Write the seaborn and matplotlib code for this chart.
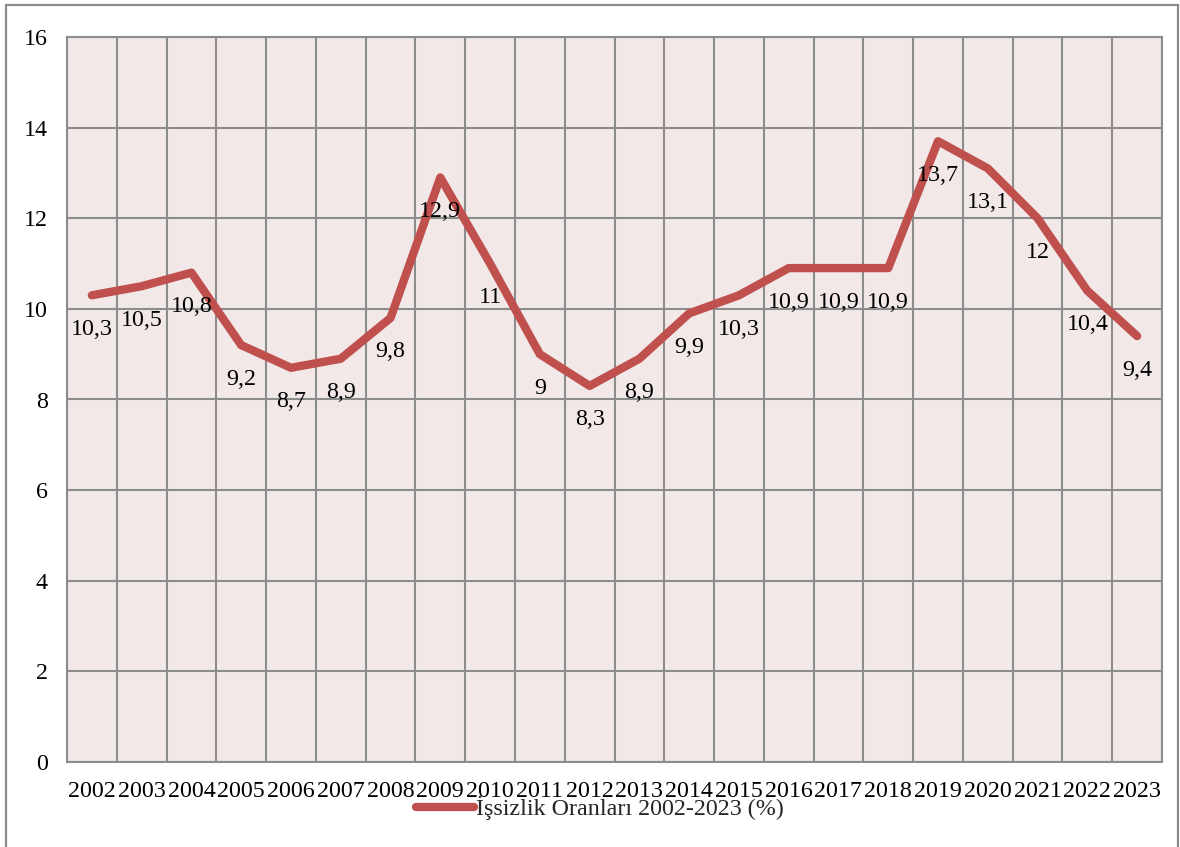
import matplotlib
matplotlib.use('Agg')
import matplotlib.pyplot as plt
from matplotlib.patches import Rectangle
import pandas as pd
import seaborn as sns

# Data
years = [str(y) for y in range(2002, 2024)]
rates = [10.3, 10.5, 10.8, 9.2, 8.7, 8.9, 9.8, 12.9, 11.0, 9.0, 8.3,
         8.9, 9.9, 10.3, 10.9, 10.9, 10.9, 13.7, 13.1, 12.0, 10.4, 9.4]
labels = ['10,3', '10,5', '10,8', '9,2', '8,7', '8,9', '9,8', '12,9', '11', '9', '8,3',
          '8,9', '9,9', '10,3', '10,9', '10,9', '10,9', '13,7', '13,1', '12', '10,4', '9,4']
series_name = 'İşsizlik Oranları 2002-2023 (%)'

df = pd.DataFrame({'year': years, 'rate': rates})

sns.set_style('white')
plt.rcParams['font.family'] = ['Liberation Serif', 'DejaVu Serif']

grid_col = '#8c8c8c'
line_col = '#c0504d'

fig = plt.figure(figsize=(11.8, 8.47), dpi=100)
ax = fig.add_axes([67 / 1180, 1 - 762 / 847, (1162 - 67) / 1180, (762 - 37) / 847])
ax.set_facecolor('#f2e8e8')

# Outer chart border
fig.patches.append(Rectangle((6 / 1180, -0.05), (1178 - 6) / 1180, 1 - 5 / 847 + 0.05,
                             transform=fig.transFigure, fill=False,
                             edgecolor=grid_col, linewidth=1.6, clip_on=False))

sns.lineplot(data=df, x='year', y='rate', ax=ax, color=line_col, linewidth=6,
             label=series_name, sort=False, solid_joinstyle='round',
             solid_capstyle='round')

# Data labels below the points
for i, (v, t) in enumerate(zip(rates, labels)):
    ax.annotate(t, (i, v), xytext=(0, -24.5), textcoords='offset points',
                ha='center', va='center', fontsize=17.3, color='black')

ax.set_xlim(-0.5, len(years) - 0.5)
ax.set_ylim(0, 16)
ax.set_yticks(range(0, 17, 2))
ax.set_xticks(range(len(years)))
ax.set_xticklabels(years)
ax.set_xticks([k + 0.5 for k in range(-1, len(years))], minor=True)

ax.grid(False)
ax.grid(axis='y', which='major', color=grid_col, linewidth=1.5)
ax.grid(axis='x', which='minor', color=grid_col, linewidth=1.5)
ax.set_axisbelow(True)

ax.tick_params(axis='both', which='both', length=0, labelsize=17.3, colors='black')
ax.tick_params(axis='y', pad=14)
ax.tick_params(axis='x', pad=14)
ax.set_xlabel('')
ax.set_ylabel('')

for s in ax.spines.values():
    s.set_color(grid_col)
    s.set_linewidth(1.5)
    s.set_visible(True)

ax.legend(loc='center', bbox_to_anchor=(600 / 1180, 1 - 808 / 847),
          bbox_transform=fig.transFigure, frameon=False, fontsize=17.3,
          handlelength=2.4, handletextpad=0.1, borderpad=0)

fig.savefig('out.png', dpi=100)
